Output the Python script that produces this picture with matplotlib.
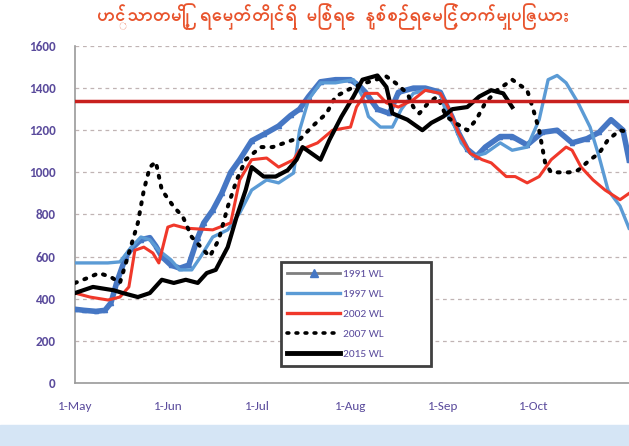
import matplotlib
matplotlib.use('Agg')
import matplotlib.pyplot as plt
from matplotlib.lines import Line2D
from matplotlib.patches import Rectangle

# days counted from 1 May
tick_days = [0, 31, 61, 92, 123, 153]
tick_labels = ['1-May', '1-Jun', '1-Jul', '1-Aug', '1-Sep', '1-Oct']
y_ticks = [0, 200, 400, 600, 800, 1000, 1200, 1400, 1600]
danger_level = 1340

d1991 = [0, 3, 7, 10, 12, 14, 17, 19, 22, 25, 27, 29, 32, 35, 38, 41, 43, 46, 49, 52,
         55, 59, 63, 68, 72, 75, 78, 82, 87, 92, 95, 97, 101, 105, 108, 113, 117, 122,
         126, 128, 131, 134, 137, 142, 146, 151, 156, 161, 166, 171, 175, 179, 183, 185]
wl1991 = [350, 345, 340, 345, 380, 480, 600, 640, 680, 690, 650, 600, 560, 545, 560, 690,
          760, 820, 900, 1000, 1060, 1150, 1180, 1220, 1270, 1300, 1360, 1430, 1440, 1440,
          1410, 1380, 1300, 1280, 1380, 1400, 1400, 1380, 1260, 1190, 1110, 1075, 1120,
          1170, 1170, 1130, 1190, 1200, 1140, 1160, 1190, 1250, 1200, 1060]

d1997 = [0, 11, 15, 18, 22, 25, 28, 32, 35, 39, 42, 46, 51, 55, 59, 64, 68, 73, 75, 78,
         82, 87, 93, 96, 98, 102, 106, 109, 113, 117, 122, 124, 127, 129, 133, 137, 142,
         146, 151, 155, 158, 161, 164, 168, 172, 175, 178, 182, 185]
wl1997 = [570, 570, 575, 630, 693, 680, 630, 585, 537, 537, 600, 693, 727, 807, 916, 964,
          950, 997, 1200, 1345, 1425, 1425, 1440, 1360, 1265, 1215, 1215, 1300, 1375, 1390,
          1375, 1280, 1215, 1140, 1075, 1090, 1140, 1105, 1120, 1250, 1440, 1460, 1425,
          1330, 1215, 1075, 916, 840, 735]

d2002 = [0, 5, 11, 15, 18, 20, 23, 26, 28, 31, 33, 37, 46, 52, 55, 59, 64, 68, 73, 75,
         81, 86, 92, 94, 97, 101, 104, 108, 113, 117, 122, 125, 128, 132, 136, 139, 144,
         147, 151, 155, 159, 164, 166, 169, 173, 177, 182, 185]
wl2002 = [427, 408, 394, 408, 456, 630, 645, 617, 570, 740, 750, 735, 727, 760, 964, 1060,
          1068, 1025, 1060, 1105, 1140, 1200, 1215, 1310, 1375, 1375, 1330, 1310, 1345,
          1390, 1375, 1300, 1190, 1090, 1060, 1045, 980, 980, 950, 980, 1060, 1120, 1105,
          1025, 964, 916, 870, 900]

d2007 = [0, 5, 8, 12, 15, 18, 21, 23, 25, 27, 29, 33, 36, 39, 43, 45, 48, 51, 54, 57, 62,
         66, 73, 75, 79, 84, 87, 93, 97, 104, 107, 111, 113, 115, 118, 121, 124, 127, 131,
         134, 137, 141, 146, 151, 153, 155, 157, 159, 165, 168, 172, 175, 178, 182, 185]
wl2007 = [475, 503, 522, 503, 475, 617, 760, 916, 1025, 1050, 916, 836, 790, 693, 630, 600,
          680, 836, 964, 1060, 1120, 1120, 1155, 1155, 1215, 1280, 1360, 1405, 1425, 1455,
          1425, 1375, 1310, 1280, 1330, 1360, 1265, 1235, 1200, 1250, 1330, 1390, 1440,
          1390, 1300, 1200, 1045, 1000, 1000, 1010, 1060, 1090, 1155, 1200, 1190]

d2015 = [0, 6, 13, 16, 21, 25, 29, 33, 37, 41, 44, 47, 51, 54, 57, 59, 63, 67, 71, 74, 76,
         78, 82, 85, 89, 93, 96, 101, 104, 106, 111, 116, 119, 123, 126, 131, 135, 139,
         143, 146]
wl2015 = [427, 456, 440, 427, 408, 427, 490, 475, 490, 475, 522, 537, 645, 790, 916, 1025,
          980, 980, 1010, 1060, 1120, 1100, 1060, 1155, 1265, 1360, 1440, 1460, 1405, 1280,
          1250, 1200, 1235, 1265, 1300, 1310, 1360, 1390, 1375, 1310]

title = 'ဟင်္သာတမြို့ ရေမှတ်တိုင်ရှိ မြစ်ရေ နှစ်စဉ်ရေမြင့်တက်မှုပြဇယား'

num_font = ['Carlito', 'DejaVu Sans']
label_col = '#5a4b9c'

fig = plt.figure(figsize=(6.29, 4.46), dpi=100)
fig.patch.set_facecolor('white')
fig.patches.append(Rectangle((0, 0), 1, 0.047, transform=fig.transFigure,
                             color='#d5e5f5', zorder=0))

ax = fig.add_axes([0.1192, 0.1413, 0.8808, 0.7556])
ax.set_xlim(0, 185)
ax.set_ylim(0, 1600)

ax.plot(d1991, wl1991, color='#4677c4', lw=4, marker='^', ms=3, zorder=3)
ax.plot(d1997, wl1997, color='#5b9bd5', lw=2.4, zorder=3)
ax.plot(d2002, wl2002, color='#f0382a', lw=2.2, zorder=3)
ax.plot(d2007, wl2007, color='black', lw=2.9, ls=(0, (0.5, 2.0)),
        dash_capstyle='round', zorder=4)
ax.plot(d2015, wl2015, color='black', lw=3, zorder=4)
ax.axhline(danger_level, color='#c8201e', lw=2.5, zorder=5)

ax.set_xticks(tick_days)
ax.set_xticklabels(tick_labels)
ax.set_yticks(y_ticks)
ax.tick_params(length=0, labelsize=9.5, colors=label_col)
ax.tick_params(axis='y', pad=14)
ax.tick_params(axis='x', pad=13)
for lab in ax.get_xticklabels() + ax.get_yticklabels():
    lab.set_family(num_font)
for lab in ax.get_yticklabels():
    lab.set_fontweight('bold')

ax.grid(axis='y', color='#c0b4b4', lw=0.9, ls=(0, (3, 3)))
ax.set_axisbelow(True)
for s in ['top', 'right']:
    ax.spines[s].set_visible(False)
for s in ['left', 'bottom']:
    ax.spines[s].set_color('#9a9a9a')
    ax.spines[s].set_linewidth(1.2)

handles = [
    Line2D([], [], color='#7f7f7f', lw=2, marker='^', ms=6,
           mfc='#4677c4', mec='#4677c4'),
    Line2D([], [], color='#5b9bd5', lw=2.4),
    Line2D([], [], color='#f0382a', lw=2.4),
    Line2D([], [], color='black', lw=2.6, ls=(0, (0.5, 2.0)), dash_capstyle='round'),
    Line2D([], [], color='black', lw=3.5),
]
labels = ['1991 WL', '1997 WL', '2002 WL', '2007 WL', '2015 WL']
leg = fig.legend(handles, labels, loc='lower left',
                 bbox_to_anchor=(0.437, 0.166, 0.258, 0.246),
                 bbox_transform=fig.transFigure, mode='expand',
                 fancybox=False, framealpha=1, handlelength=4.6,
                 handletextpad=0.3, labelspacing=0.9, borderpad=0.6,
                 prop={'family': num_font, 'size': 8.2})
leg.get_frame().set_edgecolor('#404040')
leg.get_frame().set_linewidth(2)
for t in leg.get_texts():
    t.set_color(label_col)

fig.text(0.53, 0.962, title, ha='center', va='center', color='#e8542d',
         fontsize=13.5, fontweight='bold',
         family=['Padauk', 'Noto Sans Myanmar', 'DejaVu Sans'])

fig.savefig('out.png', dpi=100)
